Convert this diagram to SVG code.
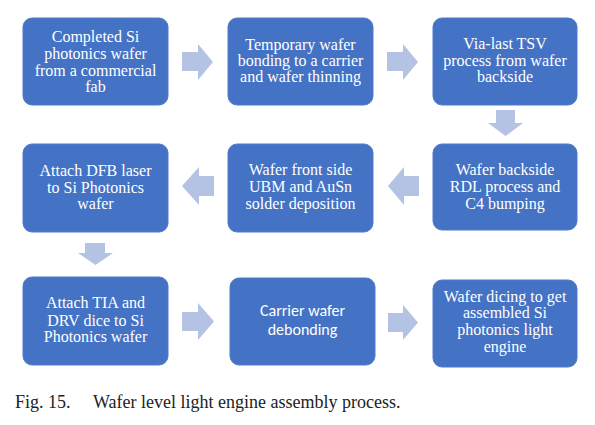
<svg xmlns="http://www.w3.org/2000/svg" width="595" height="425" viewBox="0 0 595 425">
<style>
.box{fill:#4472c4;stroke:#4e7bca;stroke-width:1}
.t{font-family:"Liberation Serif","Times New Roman",serif;font-size:16px;fill:#ffffff;text-anchor:middle}
.s{font-family:"Carlito","Liberation Sans",Arial,sans-serif;font-size:16px;fill:#ffffff;text-anchor:middle}
.arr{fill:#b4c3e4}
.cap{font-family:"Liberation Serif","Times New Roman",serif;font-size:18px;fill:#222222}
</style>
<rect width="595" height="425" fill="#ffffff"/>
<g id="connectors">
<path class="arr" d="M182,52 H198 V44 L213,62 L198,80 V71 H182 Z"/>
<path class="arr" d="M387,52 H403 V44 L418,62 L403,80 V71 H387 Z"/>
<path class="arr" d="M496,110 H515 V123 H523 L505.5,136 L488,123 H496 Z"/>
<path class="arr" d="M419,176 H404 V167 L388,186 L404,205 V196 H419 Z"/>
<path class="arr" d="M214,176 H199 V167 L182,186 L199,205 V196 H214 Z"/>
<path class="arr" d="M85,243 H105 V253 H113 L95.5,265 L78,253 H85 Z"/>
<path class="arr" d="M182,312 H198 V303 L214,321.5 L198,340 V331 H182 Z"/>
<path class="arr" d="M388,313 H403 V305 L418,322.5 L403,340 V332 H388 Z"/>
</g>
<g id="n1"><rect class="box" x="23" y="18" width="145" height="87" rx="9"/>
<text class="t" x="95.5" y="42">Completed Si</text><text class="t" x="95.5" y="59">photonics wafer</text><text class="t" x="95.5" y="75.5">from a commercial</text><text class="t" x="95.5" y="92">fab</text></g>
<g id="n2"><rect class="box" x="228" y="18" width="145" height="87" rx="9"/>
<text class="t" x="300.5" y="50">Temporary wafer</text><text class="t" x="300.5" y="66">bonding to a carrier</text><text class="t" x="300.5" y="82">and wafer thinning</text></g>
<g id="n3"><rect class="box" x="433" y="18" width="144" height="87" rx="9"/>
<text class="t" x="505" y="49">Via-last TSV</text><text class="t" x="505" y="66">process from wafer</text><text class="t" x="505" y="82">backside</text></g>
<g id="n4"><rect class="box" x="23" y="144" width="145" height="88" rx="9"/>
<text class="t" x="95.5" y="176">Attach DFB laser</text><text class="t" x="95.5" y="193">to Si Photonics</text><text class="t" x="95.5" y="209">wafer</text></g>
<g id="n5"><rect class="box" x="228" y="144" width="145" height="88" rx="9"/>
<text class="t" x="300.5" y="175">Wafer front side</text><text class="t" x="300.5" y="192">UBM and AuSn</text><text class="t" x="300.5" y="209">solder deposition</text></g>
<g id="n6"><rect class="box" x="433" y="144" width="144" height="86" rx="9"/>
<text class="t" x="505" y="175">Wafer backside</text><text class="t" x="505" y="192">RDL process and</text><text class="t" x="505" y="209">C4 bumping</text></g>
<g id="n7"><rect class="box" x="23" y="277" width="145" height="88" rx="9"/>
<text class="t" x="95.5" y="308">Attach TIA and</text><text class="t" x="95.5" y="326">DRV dice to Si</text><text class="t" x="95.5" y="342">Photonics wafer</text></g>
<g id="n8"><rect class="box" x="230" y="278" width="145" height="87" rx="9"/>
<text class="s" x="302.5" y="316">Carrier wafer</text><text class="s" x="302.5" y="335">debonding</text></g>
<g id="n9"><rect class="box" x="433" y="280" width="144" height="87" rx="9"/>
<text class="t" x="505" y="302">Wafer dicing to get</text><text class="t" x="505" y="318">assembled Si</text><text class="t" x="505" y="335">photonics light</text><text class="t" x="505" y="352">engine</text></g>
<text class="cap" x="15" y="408">Fig. 15.</text>
<text class="cap" x="93" y="408">Wafer level light engine assembly process.</text>
</svg>
